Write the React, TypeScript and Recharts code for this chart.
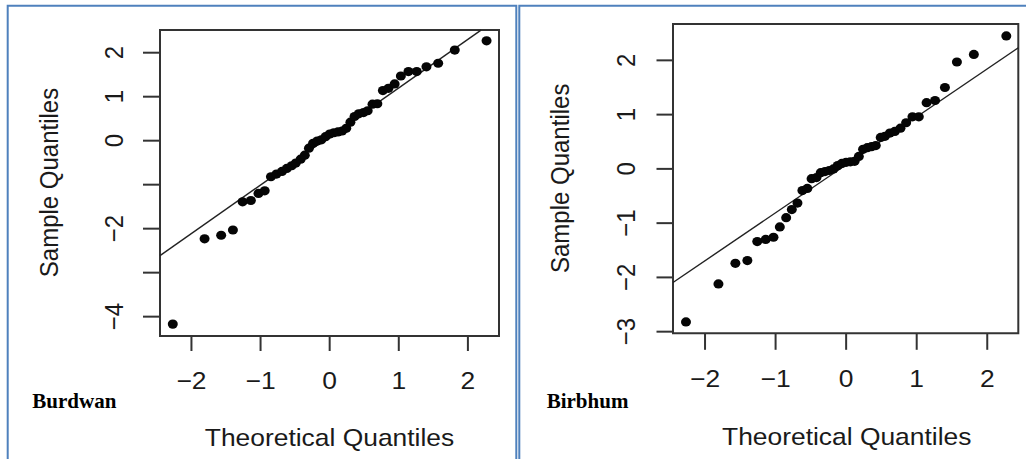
import React from 'react';
import { ScatterChart, Scatter, XAxis, YAxis, ReferenceLine, ReferenceArea } from 'recharts';

// ---------- data ----------
const theoreticalQuantiles = [
  -2.27, -1.81, -1.57, -1.40, -1.26, -1.14, -1.03, -0.94, -0.85, -0.77, -0.69,
  -0.62, -0.55, -0.49, -0.42, -0.36, -0.30, -0.24, -0.18, -0.12, -0.06, 0,
  0.06, 0.12, 0.18, 0.24, 0.30, 0.36, 0.42, 0.49, 0.55, 0.62, 0.69, 0.77,
  0.85, 0.94, 1.03, 1.14, 1.26, 1.40, 1.57, 1.81, 2.27,
];

const burdwanSample = [
  -4.17, -2.23, -2.15, -2.03, -1.39, -1.36, -1.20, -1.14, -0.82, -0.76, -0.70,
  -0.63, -0.57, -0.51, -0.42, -0.33, -0.17, -0.06, -0.01, 0.02, 0.09, 0.15,
  0.18, 0.20, 0.22, 0.28, 0.42, 0.55, 0.61, 0.64, 0.68, 0.83, 0.84, 1.14,
  1.19, 1.29, 1.47, 1.57, 1.57, 1.68, 1.76, 2.06, 2.27,
];

const birbhumSample = [
  -2.82, -2.12, -1.74, -1.69, -1.34, -1.30, -1.26, -1.07, -0.90, -0.75, -0.63,
  -0.40, -0.36, -0.18, -0.16, -0.07, -0.05, -0.03, 0.0, 0.06, 0.10, 0.12,
  0.13, 0.14, 0.23, 0.36, 0.39, 0.41, 0.43, 0.58, 0.60, 0.66, 0.69, 0.75,
  0.85, 0.96, 0.96, 1.22, 1.26, 1.50, 1.97, 2.11, 2.45,
];

const xTicks = [-2, -1, 0, 1, 2];
const xTickLabels = ['\u22122', '\u22121', '0', '1', '2'];
const burdwanYTicks = [-4, -3, -2, -1, 0, 1, 2];
const burdwanYTickLabels = ['\u22124', '', '\u22122', '', '0', '1', '2'];
const birbhumYTicks = [-3, -2, -1, 0, 1, 2];
const birbhumYTickLabels = ['\u22123', '\u22122', '\u22121', '0', '1', '2'];

const burdwanXDomain = [-2.455, 2.45];
const burdwanYDomain = [-4.44, 2.516];
const birbhumXDomain = [-2.454, 2.44];
const birbhumYDomain = [-3.03, 2.67];

const burdwanQQLine = [{ x: -2.455, y: -2.614 }, { x: 2.19, y: 2.514 }];
const birbhumQQLine = [{ x: -2.454, y: -2.094 }, { x: 2.44, y: 2.232 }];

const xTitle = 'Theoretical Quantiles';
const yTitle = 'Sample Quantiles';

// ---------- styling ----------
const FONT = "'Liberation Sans', Arial, Helvetica, sans-serif";
const SERIF = "'Liberation Serif', 'Times New Roman', serif";
const STRETCH = 1.1;
const INK = '#1a1a1a';
const BOX = '#333333';
const BLUE = '#4f81bd';

function makeXTick(labels: string[], ticks: number[], offset: number) {
  return (props: any) => {
    const { x, y, payload } = props;
    const i = ticks.indexOf(payload.value);
    const label = i >= 0 ? labels[i] : String(payload.value);
    return (
      <g transform={`translate(${x},${y + offset}) scale(${STRETCH},1)`}>
        <text x={0} y={0} textAnchor="middle" dominantBaseline="central" fontSize={24} fontFamily={FONT} fill={INK}>
          {label}
        </text>
      </g>
    );
  };
}

function makeYTick(labels: string[], ticks: number[], offset: number) {
  return (props: any) => {
    const { x, y, payload } = props;
    const i = ticks.indexOf(payload.value);
    const label = i >= 0 ? labels[i] : String(payload.value);
    return (
      <g transform={`translate(${x - offset},${y}) scale(${STRETCH},1) rotate(-90)`}>
        <text x={0} y={0} textAnchor="middle" dominantBaseline="central" fontSize={24} fontFamily={FONT} fill={INK}>
          {label}
        </text>
      </g>
    );
  };
}

const Dot = (props: any) => (
  <ellipse cx={props.cx} cy={props.cy} rx={5} ry={4.6} fill="#050505" />
);

type PanelProps = {
  left: number;
  width: number;
  height: number;
  margin: { top: number; right: number; bottom: number; left: number };
  xs: number[];
  ys: number[];
  xDomain: number[];
  yDomain: number[];
  yTicks: number[];
  yTickLabels: string[];
  qqLine: { x: number; y: number }[];
  yTickSize: number;
  xTickSize: number;
  yLabelOffset: number;
  xLabelOffset: number;
};

function QQPanel(p: PanelProps) {
  const data = p.xs.map((x, i) => ({ x, y: p.ys[i] }));
  return (
    <div style={{ position: 'absolute', left: p.left, top: 0, width: p.width, height: p.height }}>
      <ScatterChart width={p.width} height={p.height} margin={p.margin}>
        <XAxis
          type="number"
          dataKey="x"
          domain={p.xDomain}
          allowDataOverflow
          ticks={xTicks}
          interval={0}
          axisLine={false}
          tickSize={p.xTickSize}
          tickMargin={0}
          tickLine={{ stroke: BOX, strokeWidth: 2 }}
          tick={makeXTick(xTickLabels, xTicks, p.xLabelOffset)}
          height={60}
        />
        <YAxis
          type="number"
          dataKey="y"
          domain={p.yDomain}
          allowDataOverflow
          ticks={p.yTicks}
          interval={0}
          axisLine={false}
          tickSize={p.yTickSize}
          tickMargin={0}
          tickLine={{ stroke: BOX, strokeWidth: 2 }}
          tick={makeYTick(p.yTickLabels, p.yTicks, p.yLabelOffset)}
          width={100}
        />
        <ReferenceArea
          x1={p.xDomain[0]}
          x2={p.xDomain[1]}
          y1={p.yDomain[0]}
          y2={p.yDomain[1]}
          fill="none"
          fillOpacity={0}
          stroke={BOX}
          strokeWidth={2}
          ifOverflow="visible"
        />
        <Scatter data={data} shape={Dot} isAnimationActive={false} />
        <ReferenceLine
          segment={p.qqLine}
          stroke="#222222"
          strokeWidth={1.4}
          ifOverflow="visible"
        />
      </ScatterChart>
    </div>
  );
}

export default function App() {
  return (
    <div style={{ position: 'absolute', left: 0, top: 0, width: 1026, height: 459, background: '#ffffff', overflow: 'hidden' }}>
      <QQPanel
        left={0}
        width={520}
        height={459}
        margin={{ top: 30, right: 21, bottom: 63, left: 60 }}
        xs={theoreticalQuantiles}
        ys={burdwanSample}
        xDomain={burdwanXDomain}
        yDomain={burdwanYDomain}
        yTicks={burdwanYTicks}
        yTickLabels={burdwanYTickLabels}
        qqLine={burdwanQQLine}
        yTickSize={17}
        xTickSize={15}
        yLabelOffset={29.5}
        xLabelOffset={29}
      />
      <QQPanel
        left={513}
        width={513}
        height={459}
        margin={{ top: 24, right: 7.7, bottom: 65.7, left: 60 }}
        xs={theoreticalQuantiles}
        ys={birbhumSample}
        xDomain={birbhumXDomain}
        yDomain={birbhumYDomain}
        yTicks={birbhumYTicks}
        yTickLabels={birbhumYTickLabels}
        qqLine={birbhumQQLine}
        yTickSize={16.5}
        xTickSize={16.5}
        yLabelOffset={30.8}
        xLabelOffset={29}
      />
      <svg width={1026} height={459} style={{ position: 'absolute', left: 0, top: 0, pointerEvents: 'none' }}>
        <path d="M7.7,470 V5.7 H516.3 V470" fill="none" stroke={BLUE} strokeWidth={2} />
        <path d="M519.3,470 V5.7 H1030" fill="none" stroke={BLUE} strokeWidth={2} />
        <g transform={`translate(329.5,437) scale(${STRETCH},1)`}>
          <text textAnchor="middle" dominantBaseline="central" fontSize={24} fontFamily={FONT} fill={INK}>{xTitle}</text>
        </g>
        <g transform={`translate(846.7,436) scale(${STRETCH},1)`}>
          <text textAnchor="middle" dominantBaseline="central" fontSize={24} fontFamily={FONT} fill={INK}>{xTitle}</text>
        </g>
        <g transform={`translate(49,182.5) scale(${STRETCH},1) rotate(-90)`}>
          <text textAnchor="middle" dominantBaseline="central" fontSize={24} fontFamily={FONT} fill={INK}>{yTitle}</text>
        </g>
        <g transform={`translate(560,178.3) scale(${STRETCH},1) rotate(-90)`}>
          <text textAnchor="middle" dominantBaseline="central" fontSize={24} fontFamily={FONT} fill={INK}>{yTitle}</text>
        </g>
        <text x={32.3} y={408.3} fontSize={21} fontWeight="bold" fontFamily={SERIF} fill="#000">Burdwan</text>
        <text x={546.7} y={407.5} fontSize={21} fontWeight="bold" fontFamily={SERIF} fill="#000">Birbhum</text>
      </svg>
    </div>
  );
}
